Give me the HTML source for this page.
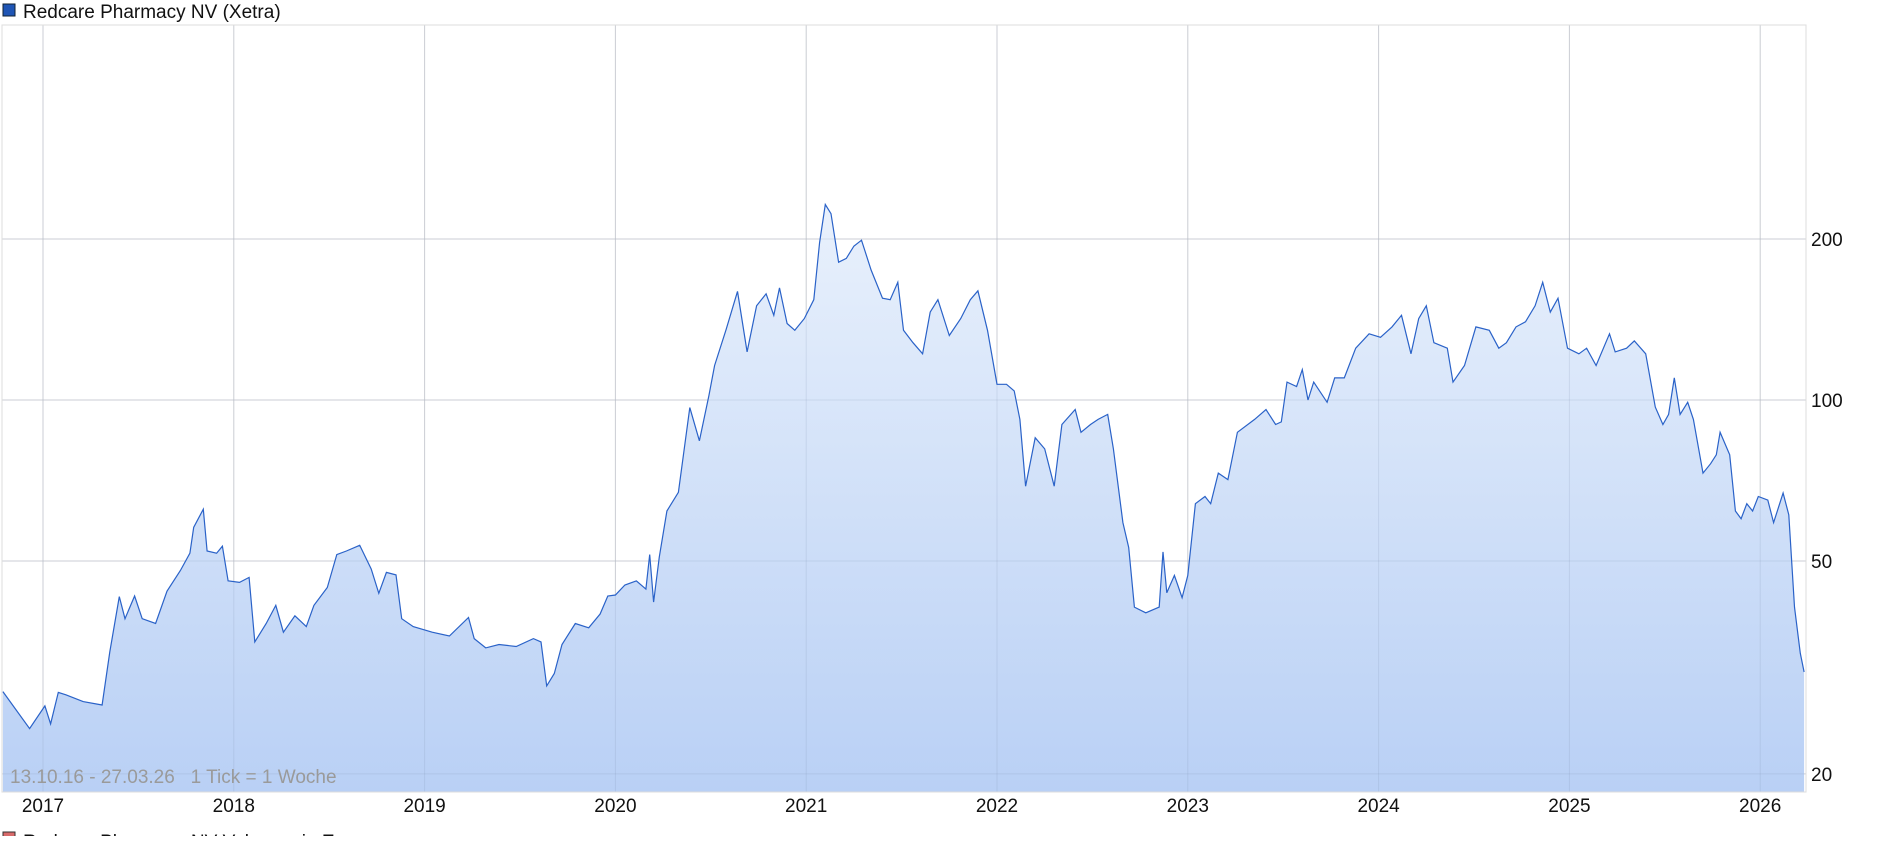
<!DOCTYPE html>
<html><head><meta charset="utf-8"><style>
body{margin:0;width:1880px;height:836px;overflow:hidden;background:#fff;font-family:"Liberation Sans",sans-serif}
</style></head><body>
<svg id="chart" width="1880" height="836" xmlns="http://www.w3.org/2000/svg" font-family="Liberation Sans, sans-serif">
<defs><linearGradient id="fg" x1="0" y1="0" x2="0" y2="1">
<stop offset="0" stop-color="#e9f1fc"/><stop offset="1" stop-color="#b9d0f5"/></linearGradient></defs>
<rect x="3" y="4" width="12" height="12" fill="#1f55b5" stroke="#123" stroke-width="1"/>
<text x="23" y="18" font-size="19" fill="#111">Redcare Pharmacy NV (Xetra)</text>
<g id="grid"></g>
<path id="area" fill="url(#fg)"/>
<g id="grid2"></g>
<path id="line" fill="none" stroke="#2a62c8" stroke-width="1.2"/>
<rect x="2" y="25" width="1804" height="767" fill="none" stroke="#ddd"/>
<text x="10" y="783" font-size="19" fill="#9a9a9a" xml:space="preserve">13.10.16 - 27.03.26   1 Tick = 1 Woche</text>
<g id="labels"></g>
<rect x="3" y="832" width="12" height="12" fill="#d86a6a" stroke="#333"/>
<text x="23" y="848" font-size="19" fill="#111">Redcare Pharmacy NV Volumen in Euro</text>
</svg>
<script>
const dates=[2016.79,2016.93,2017.01,2017.04,2017.08,2017.12,2017.21,2017.31,2017.35,2017.40,2017.43,2017.48,2017.52,2017.59,2017.65,2017.72,2017.77,2017.79,2017.84,2017.86,2017.91,2017.94,2017.97,2018.03,2018.08,2018.11,2018.17,2018.22,2018.26,2018.32,2018.38,2018.42,2018.49,2018.54,2018.59,2018.66,2018.72,2018.76,2018.80,2018.85,2018.88,2018.94,2019.04,2019.13,2019.23,2019.26,2019.32,2019.39,2019.48,2019.57,2019.61,2019.64,2019.68,2019.72,2019.79,2019.86,2019.92,2019.96,2020.00,2020.05,2020.11,2020.16,2020.18,2020.20,2020.23,2020.27,2020.33,2020.39,2020.44,2020.49,2020.52,2020.58,2020.64,2020.69,2020.74,2020.79,2020.83,2020.86,2020.90,2020.94,2020.99,2021.04,2021.07,2021.10,2021.13,2021.17,2021.21,2021.25,2021.29,2021.34,2021.40,2021.44,2021.48,2021.51,2021.56,2021.61,2021.65,2021.69,2021.75,2021.81,2021.86,2021.90,2021.95,2022.00,2022.05,2022.09,2022.12,2022.15,2022.20,2022.25,2022.30,2022.34,2022.41,2022.44,2022.49,2022.53,2022.58,2022.61,2022.66,2022.69,2022.72,2022.78,2022.85,2022.87,2022.89,2022.93,2022.97,2023.00,2023.04,2023.09,2023.12,2023.16,2023.21,2023.26,2023.35,2023.41,2023.46,2023.49,2023.52,2023.57,2023.60,2023.63,2023.66,2023.73,2023.77,2023.82,2023.88,2023.95,2024.01,2024.07,2024.12,2024.17,2024.21,2024.25,2024.29,2024.36,2024.39,2024.45,2024.51,2024.58,2024.63,2024.67,2024.72,2024.77,2024.82,2024.86,2024.90,2024.94,2024.99,2025.05,2025.09,2025.14,2025.21,2025.24,2025.30,2025.34,2025.40,2025.45,2025.49,2025.52,2025.55,2025.58,2025.62,2025.65,2025.70,2025.74,2025.77,2025.79,2025.84,2025.87,2025.90,2025.93,2025.96,2025.99,2026.04,2026.07,2026.12,2026.15,2026.18,2026.21,2026.23];
const prices=[28.5,24.3,26.8,24.8,28.4,28.1,27.3,26.9,33.8,42.9,39.0,43.0,39.0,38.2,43.9,48.0,51.7,57.8,62.5,52.2,51.7,53.3,45.9,45.6,46.6,35.3,38.2,41.3,36.8,39.5,37.7,41.3,44.6,51.4,52.2,53.5,48.3,43.5,47.6,47.1,39.0,37.7,36.8,36.2,39.2,35.8,34.4,34.9,34.6,35.8,35.3,29.2,30.8,34.9,38.2,37.5,39.8,43.0,43.2,45.1,45.9,44.3,51.4,41.9,50.9,62.0,67.2,96.8,83.9,101.9,116,135.4,159.6,123,150,158,144,162,139,135,142,154,197,232,223,181,184,194,199,175,155,154,166,135,128,122,146,154,132,142,154,160,135,107,107,104,92,69,85,81,69,90,96,87,90,92,94,81,59,53,41,40,41,52,43.6,47,42.7,47,64,66,64,73,71,87,92,96,90,91,108,106,114,100,108,99,110,110,125,133,131,137,144,122,142,150,128,125,108,116,137,135,125,128,137,140,150,166,146,155,125,122,125,116,133,123,125,129,122,97,90,94,110,94,99,92,73,76,79,87,79,62,60,64,62,66,65,59,67,61,41,33.6,31];
const yTicks=[20,50,100,200];
const xTicks=[2017,2018,2019,2020,2021,2022,2023,2024,2025,2026];
const NS="http://www.w3.org/2000/svg";
const X=t=>43+(t-2017)*190.8;
const Y=p=>239-Math.log2(p/200)*161;
const L=2,R=1806,T=25,B=792;
function mk(tag,attrs,parent){const e=document.createElementNS(NS,tag);for(const k in attrs)e.setAttribute(k,attrs[k]);parent.appendChild(e);return e;}
const grid=document.getElementById('grid'),grid2=document.getElementById('grid2'),labels=document.getElementById('labels');
yTicks.forEach(v=>{
 const y=Y(v);
 for(const [g,c] of [[grid,'#dddddd'],[grid2,'rgba(120,140,170,0.18)']]){
  const l=mk('line',{x1:L,x2:R,y1:y,y2:y,stroke:c},g);
  
  
 }
 const t=mk('text',{x:1811,y:y+7,'font-size':19,fill:'#111'},labels);t.textContent=v;
 
 
});
xTicks.forEach(v=>{
 const x=X(v);
 for(const [g,c] of [[grid,'#dddddd'],[grid2,'rgba(120,140,170,0.18)']]){
  const l=mk('line',{x1:x,x2:x,y1:T,y2:B,stroke:c},g);
  
  
 }
 const t=mk('text',{x:x,y:812,'font-size':19,fill:'#111','text-anchor':'middle'},labels);t.textContent=v;
 
 
});
let d='';dates.forEach((t,i)=>{d+=(i?'L':'M')+Math.max(L,X(t)).toFixed(1)+','+Y(prices[i]).toFixed(1);});
document.getElementById('line').setAttribute('d',d);
const lastX=Math.max(L,X(dates[dates.length-1])).toFixed(1),firstX=Math.max(L,X(dates[0])).toFixed(1);
document.getElementById('area').setAttribute('d',d+'L'+lastX+','+B+'L'+firstX+','+B+'Z');
</script>
</body></html>
